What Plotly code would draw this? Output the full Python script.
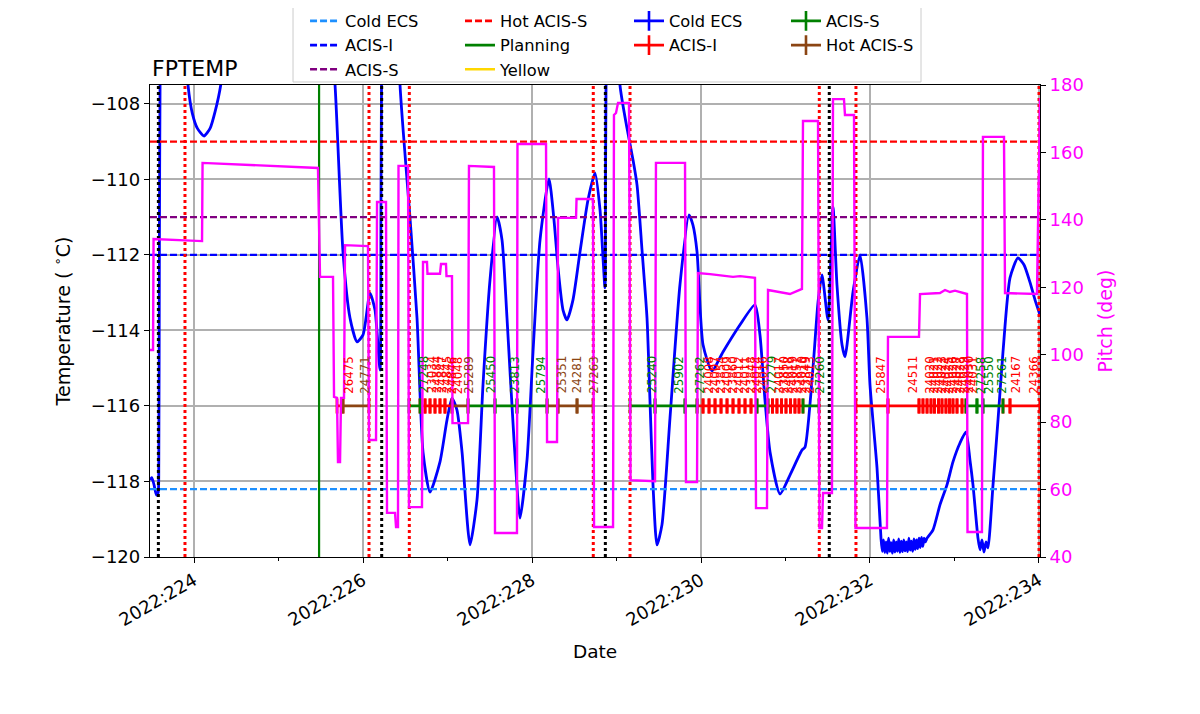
import plotly.graph_objects as go

# ---------------- data ----------------
temp_time = [
    223.479, 223.500, 223.527, 223.555, 223.575, 223.583, 223.590, 223.598,
    223.620, 223.840, 223.929, 223.980, 224.040, 224.118, 224.190, 224.250,
    224.316, 224.360, 224.450, 225.550, 225.669, 225.763, 225.846, 225.929,
    226.000, 226.083, 226.142, 226.201, 226.212, 226.219, 226.240, 226.400,
    226.438, 226.556, 226.639, 226.710, 226.793, 226.911, 226.994, 227.053,
    227.112, 227.172, 227.266, 227.349, 227.420, 227.503, 227.586, 227.645,
    227.704, 227.787, 227.858, 227.941, 228.012, 228.095, 228.201, 228.260,
    228.308, 228.367, 228.414, 228.485, 228.568, 228.663, 228.746, 228.805,
    228.864, 228.870, 228.876, 228.890, 228.990, 229.041, 229.124, 229.195,
    229.243, 229.302, 229.361, 229.396, 229.432, 229.479, 229.538, 229.633,
    229.751, 229.858, 229.905, 229.953, 230.024, 230.130, 230.260, 230.462,
    230.639, 230.698, 230.757, 230.817, 230.935, 231.053, 231.195, 231.231,
    231.325, 231.385, 231.432, 231.503, 231.562, 231.609, 231.669, 231.704,
    231.799, 231.882, 231.964, 232.000, 232.083, 232.130, 232.145, 232.160,
    232.175, 232.190, 232.205, 232.220, 232.235, 232.250, 232.265, 232.280,
    232.295, 232.310, 232.325, 232.340, 232.355, 232.370, 232.385, 232.400,
    232.415, 232.430, 232.445, 232.460, 232.475, 232.490, 232.505, 232.520,
    232.535, 232.550, 232.565, 232.580, 232.595, 232.610, 232.625, 232.640,
    232.655, 232.675, 232.746, 232.828, 232.911, 232.982, 233.065, 233.136,
    233.183, 233.219, 233.278, 233.302, 233.325, 233.349, 233.373, 233.396,
    233.456, 233.515, 233.574, 233.657, 233.751, 233.822, 233.893, 233.953,
    234.012,
]
temp_degc = [
    -117.96, -117.90, -118.09, -118.36, -118.30, -117.50, -112.00, -107.50,
    -104.00, -104.00, -107.50, -108.25, -108.65, -108.85, -108.65, -108.20,
    -107.50, -106.50, -104.00, -104.00, -107.50, -111.92, -113.67, -114.30,
    -114.12, -113.01, -113.46, -115.05, -111.00, -107.50, -104.00, -104.00,
    -107.50, -111.02, -113.67, -117.22, -118.28, -117.48, -116.37, -115.79,
    -116.11, -117.22, -119.68, -118.49, -115.44, -112.66, -110.99, -111.60,
    -113.67, -116.90, -118.97, -117.43, -114.57, -111.60, -109.99, -111.07,
    -112.34, -113.46, -113.72, -113.19, -111.92, -110.54, -109.83, -110.81,
    -112.87, -110.00, -107.50, -104.00, -104.00, -107.50, -108.64, -109.48,
    -110.15, -111.87, -113.67, -115.84, -118.09, -119.68, -119.15, -116.32,
    -112.79, -110.94, -111.21, -111.92, -114.38, -115.07, -114.57, -113.85,
    -113.32, -114.12, -115.84, -117.22, -118.33, -117.83, -117.17, -117.09,
    -115.00, -113.25, -112.53, -113.72, -110.73, -112.79, -114.38, -114.70,
    -112.98, -112.00, -113.67, -115.44, -117.64, -119.50, -119.85, -119.55,
    -119.88, -119.60, -119.90, -119.50, -119.85, -119.62, -119.90, -119.55,
    -119.87, -119.60, -119.85, -119.52, -119.88, -119.58, -119.86, -119.55,
    -119.84, -119.60, -119.86, -119.50, -119.82, -119.58, -119.85, -119.52,
    -119.80, -119.55, -119.78, -119.50, -119.75, -119.48, -119.72, -119.50,
    -119.60, -119.50, -119.28, -118.62, -118.09, -117.48, -116.98, -116.69,
    -117.43, -118.09, -119.50, -119.81, -119.55, -119.87, -119.60, -119.76,
    -118.09, -116.37, -114.57, -112.61, -112.08, -112.26, -112.72, -113.19,
    -113.59,
]

pitch_time = [
    223.479, 223.515, 223.521, 224.095, 224.101, 225.467, 225.491, 225.645,
    225.657, 225.692, 225.704, 225.728, 225.740, 225.775, 225.787, 226.059,
    226.071, 226.154, 226.166, 226.272, 226.284, 226.379, 226.391, 226.414,
    226.420, 226.533, 226.544, 226.698, 226.710, 226.757, 226.763, 226.911,
    226.923, 226.982, 226.988, 227.053, 227.059, 227.243, 227.254, 227.550,
    227.562, 227.822, 227.828, 228.166, 228.178, 228.296, 228.308, 228.521,
    228.527, 228.722, 228.734, 228.959, 228.970, 228.994, 229.018, 229.148,
    229.166, 229.456, 229.467, 229.811, 229.822, 229.953, 229.964, 230.107,
    230.379, 230.462, 230.639, 230.651, 230.781, 230.793, 231.053, 231.195,
    231.207, 231.385, 231.402, 231.432, 231.444, 231.550, 231.562, 231.692,
    231.704, 231.811, 231.828, 232.201, 232.213, 232.580, 232.592, 232.828,
    232.888, 232.946, 233.006, 233.148, 233.154, 233.325, 233.337, 233.586,
    233.598, 233.976, 234.012,
]
pitch_deg = [
    101.4, 101.4, 134.3, 133.7, 156.9, 155.4, 123.1, 123.1,
    87.5, 87.2, 68.2, 68.2, 87.2, 87.2, 132.5, 132.2,
    74.7, 74.7, 145.3, 145.3, 53.1, 53.1, 48.9, 48.9,
    156.0, 156.0, 54.8, 54.8, 127.5, 127.5, 124.0, 124.0,
    126.9, 126.9, 123.3, 123.3, 79.7, 79.7, 156.0, 155.7,
    47.1, 47.1, 162.5, 162.5, 74.1, 74.1, 140.6, 140.6,
    146.2, 146.2, 48.9, 48.9, 171.1, 171.7, 174.7, 174.7,
    62.8, 62.5, 156.9, 156.9, 62.2, 62.2, 124.2, 123.9,
    123.1, 123.3, 122.8, 54.5, 54.5, 119.2, 118.0, 119.5,
    169.3, 169.3, 48.6, 48.6, 59.0, 59.0, 175.8, 175.8,
    171.1, 171.1, 48.6, 48.6, 105.3, 105.3, 118.0, 118.3,
    119.2, 118.6, 119.0, 118.0, 47.4, 47.4, 164.6, 164.6,
    118.3, 118.0, 176.1,
]

limit_names = ["Cold ECS", "ACIS-I", "ACIS-S", "Hot ACIS-S"]
limit_values = [-118.2, -112.0, -111.0, -109.0]
limit_colors = ["#1E90FF", "#0000FF", "#800080", "#FF0000"]

planning_time = 225.48
radzone_times = [223.893, 226.071, 226.548, 228.725, 229.160, 231.400, 231.834, 234.0]
eclipse_times = [223.578, 226.221, 228.868, 231.518]

obs_start = [
    225.692, 225.763, 226.544, 226.675, 226.734, 226.793, 226.852, 226.911,
    226.970, 227.053, 227.243, 227.562, 227.822, 228.178, 228.308, 228.533,
    229.160, 229.456, 229.811, 229.953, 230.024, 230.095, 230.166, 230.237,
    230.308, 230.379, 230.450, 230.521, 230.592, 230.663, 230.793, 230.846,
    230.899, 230.953, 231.006, 231.059, 231.112, 231.160, 231.207, 231.834,
    232.213, 232.580, 232.627, 232.675, 232.722, 232.763, 232.811, 232.852,
    232.899, 232.941, 232.982, 233.030, 233.089, 233.136, 233.266, 233.337,
    233.574, 233.657,
]
obs_stop = [
    225.763, 226.071, 226.675, 226.734, 226.793, 226.852, 226.911, 226.970,
    227.053, 227.243, 227.562, 227.822, 228.178, 228.308, 228.533, 228.722,
    229.456, 229.811, 229.953, 230.024, 230.095, 230.166, 230.237, 230.308,
    230.379, 230.450, 230.521, 230.592, 230.663, 230.793, 230.846, 230.899,
    230.953, 231.006, 231.059, 231.112, 231.160, 231.207, 231.396, 232.213,
    232.580, 232.627, 232.675, 232.722, 232.763, 232.811, 232.852, 232.899,
    232.941, 232.982, 233.030, 233.089, 233.136, 233.266, 233.337, 233.574,
    233.657, 234.012,
]
obs_id = [
    "26475", "24771", "27248", "23034", "24884", "24847", "24845", "24846",
    "24048", "25289", "25450", "23813", "25794", "25351", "24281", "27263",
    "25240", "25902", "27262", "24008", "24007", "23854", "24009", "23860",
    "24012", "24011", "23848", "24014", "24016", "27279", "24017", "23850",
    "24018", "24019", "23851", "24010", "23849", "24013", "27260", "25847",
    "24511", "24020", "24021", "24022", "24023", "24024", "24025", "24026",
    "24027", "24028", "24029", "24030", "24031", "27258", "25550", "27261",
    "24167", "24366",
]
obs_mode = [
    "ACIS-I", "Hot ACIS-S", "ACIS-S", "ACIS-I", "ACIS-I", "ACIS-I", "ACIS-I", "ACIS-I",
    "ACIS-I", "Hot ACIS-S", "ACIS-S", "ACIS-S", "ACIS-S", "Hot ACIS-S", "Hot ACIS-S", "Hot ACIS-S",
    "ACIS-S", "ACIS-S", "ACIS-S", "ACIS-I", "ACIS-I", "ACIS-I", "ACIS-I", "ACIS-I",
    "ACIS-I", "ACIS-I", "ACIS-I", "ACIS-I", "ACIS-I", "ACIS-S", "ACIS-I", "ACIS-I",
    "ACIS-I", "ACIS-I", "ACIS-I", "ACIS-I", "ACIS-I", "ACIS-I", "ACIS-S", "ACIS-I",
    "ACIS-I", "ACIS-I", "ACIS-I", "ACIS-I", "ACIS-I", "ACIS-I", "ACIS-I", "ACIS-I",
    "ACIS-I", "ACIS-I", "ACIS-I", "ACIS-I", "ACIS-I", "ACIS-S", "ACIS-S", "ACIS-S",
    "ACIS-I", "ACIS-I",
]
obs_level = -116.0
mode_names = ["Cold ECS", "ACIS-I", "ACIS-S", "Hot ACIS-S"]
mode_colors = ["#0000FF", "#FF0000", "#008000", "#8B4513"]

day_ticks = [224, 226, 228, 230, 232, 234]
day_labels = ["2022:224", "2022:226", "2022:228", "2022:230", "2022:232", "2022:234"]
minor_day_ticks = [225, 227, 229, 231, 233]
temp_ticks = [-120, -118, -116, -114, -112, -110, -108]
pitch_ticks = [40, 60, 80, 100, 120, 140, 160, 180]

X_RANGE = [223.479, 234.012]
Y_RANGE = [-120.0, -107.5]

FONT = "DejaVu Sans"
GRID = "#b0b0b0"

fig = go.Figure()

# temperature
fig.add_trace(go.Scatter(x=temp_time, y=temp_degc, mode="lines",
                         line=dict(color="#0000FF", width=2.8, shape="spline", smoothing=0.6),
                         showlegend=False, hoverinfo="skip"))

# limit lines
for v, c in zip(limit_values, limit_colors):
    fig.add_trace(go.Scatter(x=X_RANGE, y=[v, v], mode="lines",
                             line=dict(color=c, width=2.2, dash="7px,3px"),
                             showlegend=False, hoverinfo="skip"))

# planning line
fig.add_trace(go.Scatter(x=[planning_time, planning_time], y=Y_RANGE, mode="lines",
                         line=dict(color="#008000", width=2.2),
                         showlegend=False, hoverinfo="skip"))

# obsid error bars
for name, col in zip(mode_names, mode_colors):
    xs, half = [], []
    for s, e, m in zip(obs_start, obs_stop, obs_mode):
        if m == name:
            xs.append(0.5 * (s + e))
            half.append(0.5 * (e - s))
    if not xs:
        continue
    fig.add_trace(go.Scatter(
        x=xs, y=[obs_level] * len(xs), mode="markers",
        marker=dict(size=1, color=col),
        error_x=dict(type="data", symmetric=True, array=half, color=col,
                     thickness=2.8, width=7.5),
        showlegend=False, hoverinfo="skip"))

# radzone / eclipse markers
for times, col in ((radzone_times, "#FF0000"), (eclipse_times, "#000000")):
    for t in times:
        fig.add_trace(go.Scatter(x=[t, t], y=Y_RANGE, mode="lines",
                                 line=dict(color=col, width=3, dash="3px,3px"),
                                 showlegend=False, hoverinfo="skip"))

# pitch
fig.add_trace(go.Scatter(x=pitch_time, y=pitch_deg, mode="lines", yaxis="y2",
                         line=dict(color="#FF00FF", width=2.4),
                         showlegend=False, hoverinfo="skip"))

# obsid labels
for s, e, oid, m in zip(obs_start, obs_stop, obs_id, obs_mode):
    col = mode_colors[mode_names.index(m)]
    fig.add_annotation(x=0.5 * (s + e), y=obs_level + 0.27, xref="x", yref="y",
                       text=oid, textangle=-90, showarrow=False,
                       xanchor="left", yanchor="bottom",
                       font=dict(family=FONT, size=11.8, color=col))

# legend frame
shapes = [dict(type="rect", xref="paper", yref="paper", x0=0.1607, x1=0.8663,
               y0=1.0064, y1=1.1653, line=dict(color="#cccccc", width=1),
               fillcolor="white", layer="below")]

# legend-only entries
legend_entries = [
    ("legend", "Cold ECS", "#1E90FF", "dash", False),
    ("legend", "ACIS-I", "#0000FF", "dash", False),
    ("legend", "ACIS-S", "#800080", "dash", False),
    ("legend2", "Hot ACIS-S", "#FF0000", "dash", False),
    ("legend2", "Planning", "#008000", "solid", False),
    ("legend2", "Yellow", "#FFD700", "solid", False),
    ("legend3", "Cold ECS", "#0000FF", "solid", True),
    ("legend3", "ACIS-I", "#FF0000", "solid", True),
    ("legend4", "ACIS-S", "#008000", "solid", True),
    ("legend4", "Hot ACIS-S", "#8B4513", "solid", True),
]
for i, (lg, name, col, dash, eb) in enumerate(legend_entries):
    d = "7px,3px" if dash == "dash" else "solid"
    if eb:
        fig.add_trace(go.Scatter(x=[None], y=[None], mode="lines+markers", name=name,
                                 legend=lg, legendgroup="g%d" % i,
                                 line=dict(color=col, width=2.6),
                                 marker=dict(symbol="line-ns", size=14,
                                             line=dict(color=col, width=2.6))))
    else:
        fig.add_trace(go.Scatter(x=[None], y=[None], mode="lines", name=name,
                                 legend=lg, legendgroup="g%d" % i,
                                 line=dict(color=col, width=2.6, dash=d)))

legend_common = dict(orientation="v", yanchor="top", xanchor="left", y=1.172,
                     bgcolor="rgba(0,0,0,0)", borderwidth=0, tracegroupgap=0,
                     font=dict(family=FONT, size=16.3, color="black"))

# page body has an 8 px margin: compensate so the plot area lands at 150..1040 x 85..557
fig.update_layout(
    width=1184, height=698,
    margin=dict(l=142, r=152, t=77, b=149, autoexpand=False),
    paper_bgcolor="white", plot_bgcolor="white",
    font=dict(family=FONT, size=18, color="black"),
    shapes=shapes,
    legend=dict(x=0.1742, **legend_common),
    legend2=dict(x=0.3483, **legend_common),
    legend3=dict(x=0.5382, **legend_common),
    legend4=dict(x=0.7146, **legend_common),
    xaxis=dict(range=X_RANGE, tickvals=day_ticks, ticktext=day_labels,
               tickangle=-30, ticks="outside", ticklen=5, tickcolor="black",
               showgrid=True, gridcolor=GRID, gridwidth=1.5, zeroline=False,
               showline=True, linecolor="black", linewidth=1.3, mirror=True,
               automargin=False,
               minor=dict(tickvals=minor_day_ticks, ticks="outside", ticklen=3,
                          tickcolor="black", showgrid=False),
               title=dict(text="Date", font=dict(size=18.5)),
               tickfont=dict(size=18)),
    yaxis=dict(range=Y_RANGE, tickvals=temp_ticks, ticks="outside", ticklen=5,
               tickcolor="black", showgrid=True, gridcolor=GRID, gridwidth=1.5,
               zeroline=False, showline=True, linecolor="black", linewidth=1.3,
               mirror=True, automargin=False,
               title=dict(text="Temperature ( <sup>∘</sup>C)", font=dict(size=19)),
               tickfont=dict(size=18)),
    yaxis2=dict(range=[40, 180], tickvals=pitch_ticks, overlaying="y", side="right",
                ticks="outside", ticklen=5, tickcolor="black", showgrid=False,
                zeroline=False, automargin=False,
                tickfont=dict(size=18, color="#FF00FF"),
                title=dict(text="Pitch (deg)", font=dict(size=19, color="#FF00FF"))),
)

fig.add_annotation(x=0, y=1, xref="paper", yref="paper", text="FPTEMP", showarrow=False,
                   xanchor="left", yanchor="bottom", yshift=2,
                   font=dict(family=FONT, size=22, color="black"))

fig.write_html("out.html")
